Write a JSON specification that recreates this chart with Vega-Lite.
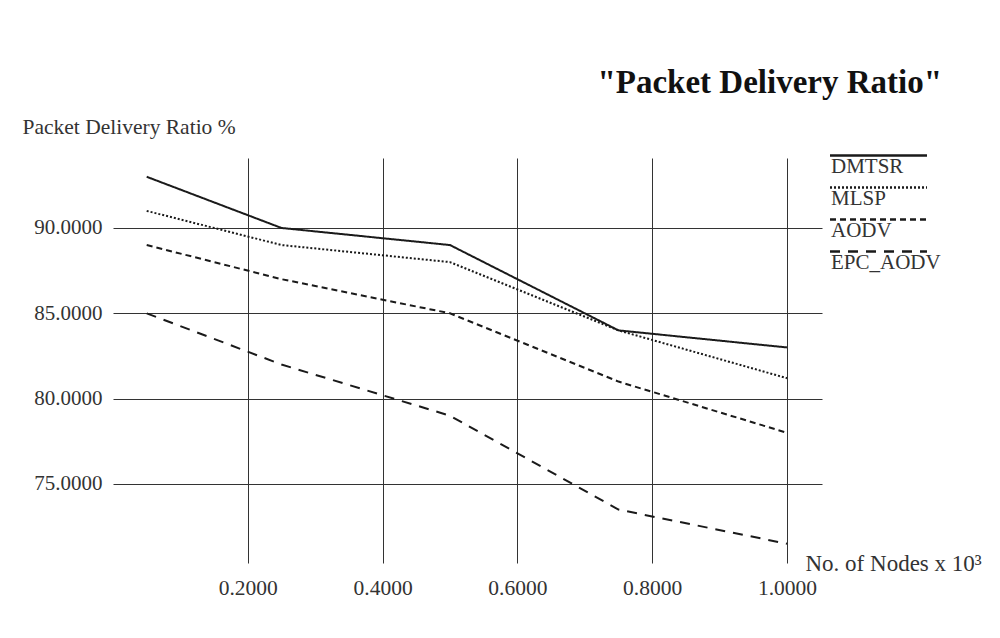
{
  "$schema": "https://vega.github.io/schema/vega-lite/v6.json",
  "width": 709,
  "height": 405,
  "autosize": {"type": "none"},
  "padding": {"left": 113, "top": 158, "right": 178, "bottom": 75},
  "background": "white",
  "config": {
    "font": "Liberation Serif",
    "view": {"stroke": null},
    "axis": {"labelFont": "Liberation Serif", "titleFont": "Liberation Serif"},
    "legend": {"labelFont": "Liberation Serif"}
  },
  "title": {
    "text": "\"Packet Delivery Ratio\"",
    "fontSize": 33,
    "fontWeight": "bold",
    "color": "#111",
    "anchor": "end",
    "frame": "group",
    "dx": 120,
    "offset": 16
  },
  "data": {
    "values": [
      {"nodes": 0.05, "pdr": 93, "protocol": "DMTSR"},
      {"nodes": 0.25, "pdr": 90, "protocol": "DMTSR"},
      {"nodes": 0.5, "pdr": 89, "protocol": "DMTSR"},
      {"nodes": 0.75, "pdr": 84, "protocol": "DMTSR"},
      {"nodes": 1.0, "pdr": 83, "protocol": "DMTSR"},
      {"nodes": 0.05, "pdr": 91, "protocol": "MLSP"},
      {"nodes": 0.25, "pdr": 89, "protocol": "MLSP"},
      {"nodes": 0.5, "pdr": 88, "protocol": "MLSP"},
      {"nodes": 0.75, "pdr": 84, "protocol": "MLSP"},
      {"nodes": 1.0, "pdr": 81.2, "protocol": "MLSP"},
      {"nodes": 0.05, "pdr": 89, "protocol": "AODV"},
      {"nodes": 0.25, "pdr": 87, "protocol": "AODV"},
      {"nodes": 0.5, "pdr": 85, "protocol": "AODV"},
      {"nodes": 0.75, "pdr": 81, "protocol": "AODV"},
      {"nodes": 1.0, "pdr": 78, "protocol": "AODV"},
      {"nodes": 0.05, "pdr": 85, "protocol": "EPC_AODV"},
      {"nodes": 0.25, "pdr": 82, "protocol": "EPC_AODV"},
      {"nodes": 0.5, "pdr": 79, "protocol": "EPC_AODV"},
      {"nodes": 0.75, "pdr": 73.5, "protocol": "EPC_AODV"},
      {"nodes": 1.0, "pdr": 71.5, "protocol": "EPC_AODV"}
    ]
  },
  "mark": {"type": "line", "strokeWidth": 2, "color": "#1a1a1a"},
  "encoding": {
    "x": {
      "field": "nodes",
      "type": "quantitative",
      "scale": {"domain": [0, 1.052], "nice": false, "zero": false},
      "axis": {
        "values": [0.2, 0.4, 0.6, 0.8, 1.0],
        "format": ".4f",
        "domain": false,
        "ticks": false,
        "grid": true,
        "gridColor": "#333",
        "gridOpacity": 1,
        "gridWidth": 1,
        "labelFontSize": 21.5,
        "labelColor": "#333",
        "labelPadding": 14,
        "title": "No. of Nodes   x 10³",
        "titleFontSize": 23,
        "titleFontWeight": "normal",
        "titleColor": "#333",
        "titleAnchor": "start",
        "titleAlign": "left",
        "titleBaseline": "alphabetic",
        "titleX": 692,
        "titleY": 7
      }
    },
    "y": {
      "field": "pdr",
      "type": "quantitative",
      "scale": {"domain": [70.37, 94.1], "nice": false, "zero": false},
      "axis": {
        "values": [75, 80, 85, 90],
        "format": ".4f",
        "domain": false,
        "ticks": false,
        "grid": true,
        "gridColor": "#333",
        "gridOpacity": 1,
        "gridWidth": 1,
        "labelFontSize": 21,
        "labelColor": "#333",
        "labelPadding": 11,
        "title": "Packet Delivery Ratio %",
        "titleFontSize": 21.5,
        "titleFontWeight": "normal",
        "titleColor": "#333",
        "titleAngle": 0,
        "titleAlign": "left",
        "titleBaseline": "alphabetic",
        "titleX": -91,
        "titleY": -25
      }
    },
    "strokeDash": {
      "field": "protocol",
      "type": "nominal",
      "scale": {
        "domain": ["DMTSR", "MLSP", "AODV", "EPC_AODV"],
        "range": [[1, 0], [2, 2], [6, 4], [10, 8]]
      },
      "legend": {
        "title": null,
        "orient": "none",
        "legendX": 755,
        "legendY": -13,
        "symbolType": "M-8,0H8",
        "symbolSize": 147,
        "symbolStrokeWidth": 2.5,
        "symbolStrokeColor": "#1a1a1a",
        "symbolFillColor": "transparent",
        "labelBaseline": "top",
        "labelOffset": -58,
        "labelFontSize": 21,
        "labelColor": "#333",
        "rowPadding": 0
      }
    }
  }
}
